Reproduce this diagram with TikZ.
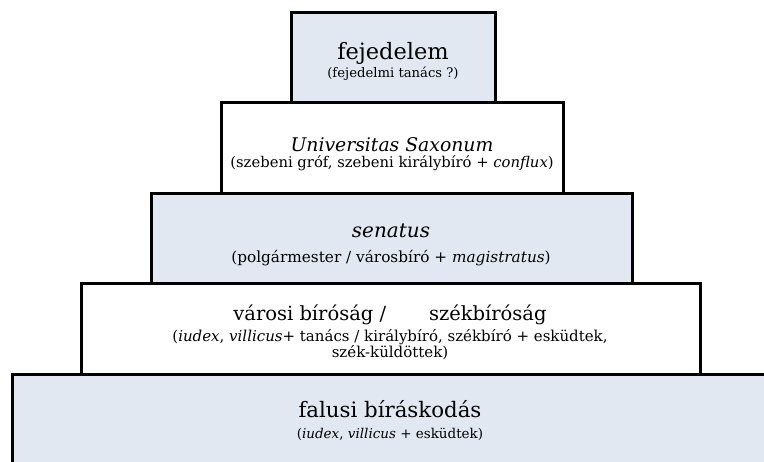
\documentclass[tikz,border=0pt]{standalone}
\usepackage{fontspec}
\setmainfont{DejaVu Serif}
\usepackage{xcolor}
\usetikzlibrary{positioning}
\definecolor{tierblue}{RGB}{225,232,241}

\begin{document}
\begin{tikzpicture}[x=1pt, y=1pt,
    tier/.style={draw, rectangle, line width=3pt, outer sep=0pt, inner sep=0pt},
    ttl/.style={inner sep=0pt, anchor=base},
    sub/.style={inner sep=0pt, anchor=base, align=center}]
    \clip (0,0) rectangle (764,462);

    % tiers, top to bottom
    \node[tier, fill=tierblue, minimum width=204pt, minimum height=90pt] (fej) at (393,404) {};
    \node[tier, fill=white, minimum width=342pt, minimum height=91pt, below=0pt of fej, xshift=-1pt] (univ) {};
    \node[tier, fill=tierblue, minimum width=481pt, minimum height=90pt, below=0pt of univ, xshift=-0.5pt] (sen) {};
    \node[tier, fill=white, minimum width=619pt, minimum height=91pt, below=0pt of sen, xshift=-1pt] (varos) {};
    \node[tier, fill=tierblue, minimum width=758pt, minimum height=110pt, below=0pt of varos, xshift=0.5pt] (falu) {};

    % labels
    \node[ttl, font=\fontsize{22.5}{26}\selectfont] (fejT) at (393,402) {fejedelem};
    \node[sub, font=\fontsize{13.2}{16}\selectfont] (fejS) at (393,384) {(fejedelmi tanács ?)};

    \node[ttl, font=\fontsize{18.8}{22}\selectfont] (univT) at (392,310) {\textit{Universitas Saxonum}};
    \node[sub, font=\fontsize{14.8}{17}\selectfont] (univS) at (392,294) {(szebeni gróf, szebeni királybíró + \textit{conflux})};

    \node[ttl, font=\fontsize{20}{24}\selectfont] (senT) at (391,224) {\textit{senatus}};
    \node[sub, font=\fontsize{15.3}{18}\selectfont] (senS) at (391,199) {(polgármester / városbíró + \textit{magistratus})};

    \node[ttl, font=\fontsize{19.5}{23}\selectfont] (varosT) at (390,141) {városi bíróság /\hspace*{2.2em}székbíróság};
    \node[sub, font=\fontsize{15}{16.5}\selectfont] (varosS) at (390,104) {(\textit{iudex}, \textit{villicus}+ tanács / királybíró, székbíró + esküdtek,\\ szék-küldöttek)};

    \node[ttl, font=\fontsize{21.3}{25}\selectfont] (faluT) at (390,44) {falusi bíráskodás};
    \node[sub, font=\fontsize{13.5}{16}\selectfont] (faluS) at (390,23) {(\textit{iudex}, \textit{villicus} + esküdtek)};
\end{tikzpicture}
\end{document}
